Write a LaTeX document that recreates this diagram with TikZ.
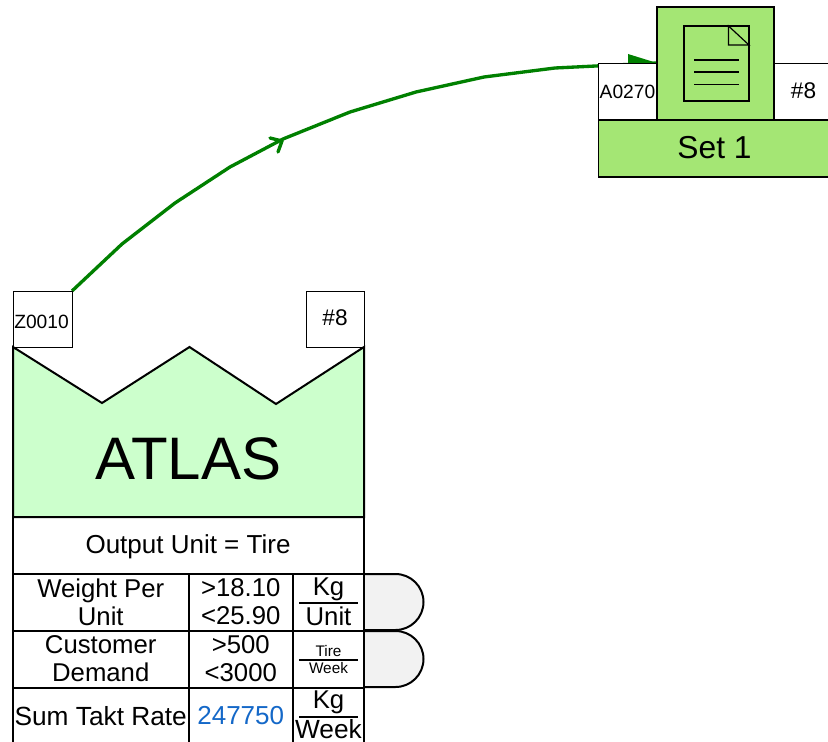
\documentclass[tikz,border=0pt]{standalone}
\usepackage{fontspec}
\setmainfont{Liberation Sans}
\definecolor{setgreen}{HTML}{A4E674}
\definecolor{atlasgreen}{HTML}{CCFFCC}
\definecolor{linkgreen}{HTML}{008000}
\definecolor{valblue}{HTML}{1468C8}
\definecolor{bumpgray}{HTML}{F2F2F2}
\newcommand{\fs}[1]{\fontsize{#1}{21}\selectfont}
\tikzset{
  px/.style={x=0.75pt,y=-0.75pt},
  cell/.style 2 args={draw=black,line width=1.5pt,inner sep=0pt,outer sep=0pt,minimum width=#1*0.75pt,minimum height=#2*0.75pt,align=center,font=\fs{19.3}},
  tag/.style 2 args={draw=black,line width=0.6pt,fill=white,inner sep=0pt,outer sep=0pt,minimum width=#1*0.75pt,minimum height=#2*0.75pt},
  link/.style={draw=linkgreen,line width=2.5pt,line join=round},
  plain/.style={inner sep=0pt,outer sep=0pt},
  rule/.style={line width=1.5pt},
  setbox/.style={draw=black,line width=0.95pt,fill=setgreen,inner sep=0pt,outer sep=0pt}
}
\begin{document}
\begin{tikzpicture}[px]
\useasboundingbox (0,0) rectangle (828,742);
\clip (0,0) rectangle (828,742);
\fill[white] (0,0) rectangle (828,742);
% anchors for the connector ends
\coordinate (srcend) at (72,291);
\coordinate (dstend) at (657,63);
\draw[link] (srcend) -- (122,244) -- (175,203) -- (230,167) -- (283,139) -- (350,112) -- (416,92) -- (484,77) -- (555,68) -- (dstend);
\fill[linkgreen] (dstend) -- (628,54) -- (628,72) -- cycle;
\draw[link,line cap=round] (270,138) -- (282,141) -- (278,152);
% Set block
\node[tag={59}{57},font=\fs{14.4}] (a) at (627.5,91.5) {A0270};
\node[tag={60}{57}] (n8a) at (803.5,91.5) {};
\node[plain,font=\fs{17}] at (803.5,91) {\#8};
\node[setbox,minimum width=87.75pt,minimum height=84.75pt] (proc) at (715.5,63.5) {};
\node[setbox,minimum width=172.5pt,minimum height=42.75pt] (setone) at (713.5,148.5) {};
\node[plain,font=\fs{23.8}] (settext) at (714.5,148) {Set 1};
\draw[line width=0.9pt] (684,26) rectangle (749,101);
\draw[line width=0.9pt] (728.5,26) -- (728.5,45) -- (749,45) -- cycle;
\draw[line width=0.9pt] (694,60) -- (739,60) (694,72) -- (739,72) (694,84.5) -- (739,84.5);
% ATLAS
\node[tag={59}{56}] (z) at (42.5,319) {};
\node[plain,font=\fs{14.4}] at (41.5,322) {Z0010};
\node[tag={58}{56}] (n8b) at (335,319) {};
\node[plain,font=\fs{17}] at (335,318) {\#8};
\draw[line width=1.5pt,fill=atlasgreen,line join=miter] (13,347) -- (102,403) -- (189.5,347) -- (276,404) -- (364,347) -- (364,517) -- (13,517) -- cycle;
\node[plain,font=\fs{45}] (atlas) at (188.5,459) {ATLAS};
% bumps
\draw[line width=1.5pt,fill=bumpgray] (364,574) -- (395.5,574) arc[start angle=90,end angle=-90,radius=21pt] -- (364,630);
\draw[line width=1.5pt,fill=bumpgray] (364,631) -- (395.5,631) arc[start angle=90,end angle=-90,radius=21pt] -- (364,687);
% table
\node[cell={351}{57}] (out) at (188.5,545.5) {};
\node[plain,font=\fs{19.5}] (outtext) at (188,547) {Output Unit = Tire};
\node[cell={175.5}{57}] (c11) at (100.75,602) {Weight Per\\Unit};
\node[cell={104.5}{57}] (c12) at (240.75,602) {>18.10\\<25.90};
\node[cell={71}{57}] (c13) at (328.5,602.5) {};
\node[cell={175.5}{57}] (c21) at (100.75,659) {Customer\\Demand};
\node[cell={104.5}{57}] (c22) at (240.75,659) {>500\\<3000};
\node[cell={71}{57}] (c23) at (328.5,659.5) {};
\node[cell={175.5}{57},font=\fs{19.7}] (c31) at (100.75,716) {Sum Takt Rate};
\node[cell={104.5}{57},font=\fs{19.5},text=valblue] (c32) at (240.75,716) {247750};
\node[cell={71}{57}] (c33) at (328.5,716.5) {};
% fractions
\draw[rule] ([xshift=4.5pt]c13.west) -- ([xshift=-4.5pt]c13.east);
\draw[rule] ([xshift=4.5pt]c23.west) -- ([xshift=-4.5pt]c23.east);
\draw[rule] ([xshift=4.5pt]c33.west) -- ([xshift=-4.5pt]c33.east);
\node[plain,font=\fs{19.3}] at (328.5,589.5) {Kg};
\node[plain,font=\fs{19.3}] at (328.5,616) {Unit};
\node[plain,font=\fs{11.5}] at (328.5,651) {Tire};
\node[plain,font=\fs{11.5}] at (328.5,668) {Week};
\node[plain,font=\fs{19.3}] at (328.5,702.5) {Kg};
\node[plain,font=\fs{19.7}] at (328.5,729) {Week};
\end{tikzpicture}
\end{document}
